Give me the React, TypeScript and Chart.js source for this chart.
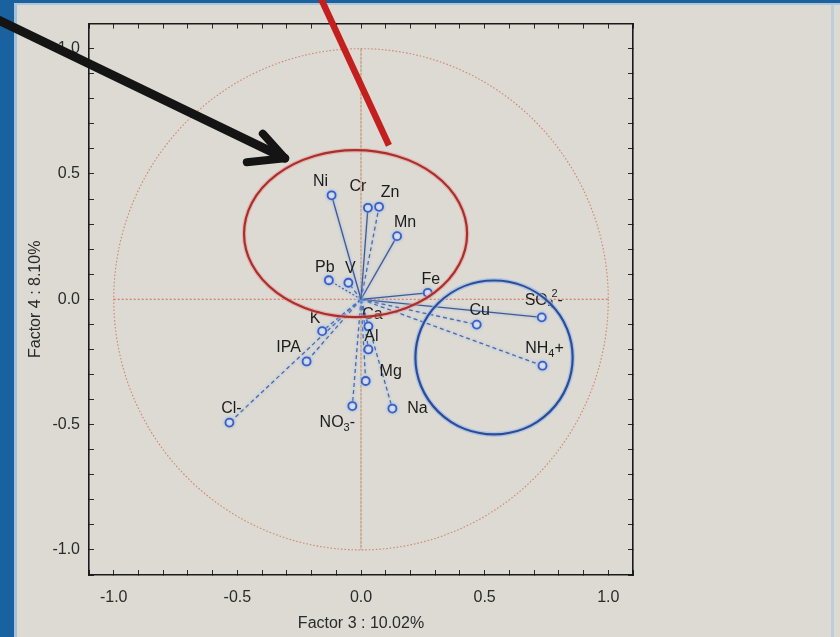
import React, { useEffect, useRef } from 'react';
import { Chart, registerables } from 'chart.js';

Chart.register(...registerables);

const FONT = '"Liberation Sans", Arial, Helvetica, sans-serif';

// ---------------- data ----------------
const variables = ['Ni', 'Cr', 'Zn', 'Mn', 'Pb', 'V', 'Fe', 'Cu', 'SO_4^2-', 'NH_4+', 'K', 'IPA', 'Cl-', 'Ca', 'Al', 'Mg', 'NO_3-', 'Na'];
const factor3 = [-0.119, 0.028, 0.073, 0.146, -0.130, -0.051, 0.270, 0.468, 0.731, 0.734, -0.157, -0.220, -0.532, 0.030, 0.030, 0.019, -0.035, 0.127];
const factor4 = [0.415, 0.365, 0.369, 0.252, 0.076, 0.066, 0.026, -0.101, -0.072, -0.265, -0.127, -0.248, -0.492, -0.108, -0.200, -0.326, -0.426, -0.436];

// styles / label placement (pixels, relative to the point)
const vectorStyle = ['solid', 'solid', 'dashed', 'solid', 'dotted', 'dashed', 'solid', 'dashed', 'solid', 'dashed', 'dashed', 'dashed', 'dashed', 'dashed', 'dashed', 'dashed', 'dashed', 'dashed'];
const labelOffset: [number, number][] = [[-11, -14], [-10, -21], [11, -14], [8, -14], [-4, -13], [2, -14], [3, -13], [3, -14], [2, -17], [2, -17], [-7, -13], [-18, -14], [2, -14], [4, -12], [3, -13], [25, -9], [-15, 17], [25, 0]];

const axisMin = -1.1;
const axisMax = 1.1;
const minorStep = 0.1;
const labelStep = 0.5;
const xTitle = 'Factor 3 : 10.02%';
const yTitle = 'Factor 4 : 8.10%';

// hand-drawn annotations (data units)
const redEllipse = { cx: -0.022, cy: 0.262, rx: 0.451, ry: 0.333 };
const blueEllipse = { cx: 0.538, cy: -0.232, rx: 0.318, ry: 0.307 };
const redStroke: [number, number][] = [[-0.162, 1.2], [0.113, 0.614]];
const arrowShaft: [number, number][] = [[-1.466, 1.114], [-0.308, 0.563]];
const arrowBarbs: [number, number][] = [[-0.462, 0.547], [-0.397, 0.661]];

const PAPER = '#dcdad3';
const BLUE = '#1a629f';

function drawRich(ctx: CanvasRenderingContext2D, markup: string, cx: number, cy: number, size: number, color: string) {
  const segs: { t: string; k: string }[] = [];
  for (let i = 0; i < markup.length; i++) {
    const c = markup[i];
    if ((c === '_' || c === '^') && i + 1 < markup.length) {
      segs.push({ t: markup[i + 1], k: c });
      i++;
    } else if (segs.length && segs[segs.length - 1].k === '') {
      segs[segs.length - 1].t += c;
    } else segs.push({ t: c, k: '' });
  }
  const main = `${size}px ${FONT}`;
  const small = `${Math.round(size * 0.68)}px ${FONT}`;
  let x = 0;
  const placed: { t: string; k: string; x: number; w: number }[] = [];
  let prev: { t: string; k: string; x: number; w: number } | null = null;
  for (const s of segs) {
    ctx.font = s.k ? small : main;
    const w = ctx.measureText(s.t).width;
    let sx = x;
    if (s.k === '^' && prev && prev.k === '_') sx = prev.x + prev.w * 0.6;
    const p = { ...s, x: sx, w };
    placed.push(p);
    x = Math.max(x, sx + w);
    prev = p;
  }
  const left = cx - x / 2;
  ctx.fillStyle = color;
  ctx.textBaseline = 'middle';
  ctx.textAlign = 'left';
  for (const p of placed) {
    ctx.font = p.k ? small : main;
    const dy = p.k === '_' ? size * 0.32 : p.k === '^' ? -size * 0.42 : 0;
    ctx.fillText(p.t, left + p.x, cy + dy);
  }
}

function ellipsePath(ctx: CanvasRenderingContext2D, xs: any, ys: any, e: { cx: number; cy: number; rx: number; ry: number }) {
  const px = xs.getPixelForValue(e.cx);
  const py = ys.getPixelForValue(e.cy);
  const prx = Math.abs(xs.getPixelForValue(e.cx + e.rx) - px);
  const pry = Math.abs(ys.getPixelForValue(e.cy + e.ry) - py);
  ctx.beginPath();
  ctx.ellipse(px, py, prx, pry, 0, 0, Math.PI * 2);
}

const decorPlugin = {
  id: 'decor',
  beforeDatasetsDraw(chart: any) {
    const { ctx, scales } = chart;
    const xs = scales.x;
    const ys = scales.y;
    ctx.save();
    // unit circle
    ctx.strokeStyle = 'rgba(205,130,100,0.95)';
    ctx.lineWidth = 1.1;
    ctx.setLineDash([1.5, 2]);
    ellipsePath(ctx, xs, ys, { cx: 0, cy: 0, rx: 1, ry: 1 });
    ctx.stroke();
    // cross lines
    ctx.strokeStyle = 'rgba(210,110,85,0.95)';
    ctx.setLineDash([2, 2]);
    ctx.beginPath();
    ctx.moveTo(xs.getPixelForValue(-1), ys.getPixelForValue(0));
    ctx.lineTo(xs.getPixelForValue(1), ys.getPixelForValue(0));
    ctx.stroke();
    ctx.strokeStyle = 'rgba(190,140,100,0.95)';
    ctx.setLineDash([3, 1]);
    ctx.beginPath();
    ctx.moveTo(xs.getPixelForValue(0), ys.getPixelForValue(1));
    ctx.lineTo(xs.getPixelForValue(0), ys.getPixelForValue(-1));
    ctx.stroke();
    ctx.restore();
    ctx.save();
    ctx.shadowColor = 'rgba(140,180,235,0.9)';
    ctx.shadowBlur = 3;
  },
  afterDatasetsDraw(chart: any) {
    const { ctx, scales } = chart;
    ctx.restore();
    const xs = scales.x;
    const ys = scales.y;
    // labels
    chart.data.datasets.forEach((ds: any, i: number) => {
      const meta = chart.getDatasetMeta(i);
      const pt = meta.data[1];
      if (!pt) return;
      drawRich(ctx, variables[i], pt.x + labelOffset[i][0], pt.y + labelOffset[i][1], 16, '#1c1c1c');
    });
    ctx.save();
    ctx.setLineDash([]);
    // red ellipse
    ctx.strokeStyle = 'rgba(235,150,150,0.55)';
    ctx.lineWidth = 4.5;
    ellipsePath(ctx, xs, ys, redEllipse);
    ctx.stroke();
    ctx.strokeStyle = '#a8302c';
    ctx.lineWidth = 2.2;
    ellipsePath(ctx, xs, ys, redEllipse);
    ctx.stroke();
    // blue ellipse
    ctx.strokeStyle = 'rgba(150,185,235,0.65)';
    ctx.lineWidth = 5;
    ellipsePath(ctx, xs, ys, blueEllipse);
    ctx.stroke();
    ctx.strokeStyle = '#2d4c96';
    ctx.lineWidth = 2.2;
    ellipsePath(ctx, xs, ys, blueEllipse);
    ctx.stroke();
    // red stroke
    ctx.strokeStyle = '#c41f1f';
    ctx.lineWidth = 6.5;
    ctx.lineCap = 'butt';
    ctx.beginPath();
    ctx.moveTo(xs.getPixelForValue(redStroke[0][0]), ys.getPixelForValue(redStroke[0][1]));
    ctx.lineTo(xs.getPixelForValue(redStroke[1][0]), ys.getPixelForValue(redStroke[1][1]));
    ctx.stroke();
    // black arrow
    ctx.strokeStyle = '#141414';
    ctx.lineWidth = 9;
    ctx.lineCap = 'round';
    ctx.lineJoin = 'round';
    const tip = [xs.getPixelForValue(arrowShaft[1][0]), ys.getPixelForValue(arrowShaft[1][1])];
    ctx.beginPath();
    ctx.moveTo(xs.getPixelForValue(arrowShaft[0][0]), ys.getPixelForValue(arrowShaft[0][1]));
    ctx.lineTo(tip[0], tip[1]);
    ctx.stroke();
    ctx.lineWidth = 8;
    ctx.beginPath();
    ctx.moveTo(xs.getPixelForValue(arrowBarbs[0][0]), ys.getPixelForValue(arrowBarbs[0][1]));
    ctx.lineTo(tip[0], tip[1]);
    ctx.lineTo(xs.getPixelForValue(arrowBarbs[1][0]), ys.getPixelForValue(arrowBarbs[1][1]));
    ctx.stroke();
    ctx.restore();
  },
};

const tickLabel = (v: any) => {
  const n = Number(v);
  const r = n / labelStep;
  return Math.abs(r - Math.round(r)) < 1e-6 ? n.toFixed(1) : '';
};

const gridOpts = { display: true, drawOnChartArea: false, drawTicks: true, tickLength: -5, color: '#2a2a2a', lineWidth: 1 };
const borderOpts = { display: true, color: '#1a1a1a', width: 1.6 };

export default function App() {
  const ref = useRef<HTMLCanvasElement>(null);
  useEffect(() => {
    const datasets = variables.map((name, i) => ({
      label: name,
      data: [{ x: 0, y: 0 }, { x: factor3[i], y: factor4[i] }],
      showLine: true,
      borderColor: vectorStyle[i] === 'solid' ? '#44598f' : '#4b69b0',
      borderWidth: 1.3,
      borderDash: vectorStyle[i] === 'solid' ? [] : vectorStyle[i] === 'dashed' ? [4, 3] : [2, 2],
      pointRadius: [0, 4],
      pointBorderColor: '#3b5ec6',
      pointBackgroundColor: '#e3e5ec',
      pointBorderWidth: 1.8,
      pointHoverRadius: [0, 4],
    }));
    const chart = new Chart(ref.current!, {
      type: 'scatter',
      data: { datasets },
      options: {
        responsive: false,
        animation: false,
        events: [],
        layout: { padding: { left: 0, right: 207, top: 18, bottom: 0 } },
        plugins: { legend: { display: false }, tooltip: { enabled: false } },
        scales: {
          x: {
            type: 'linear', position: 'bottom', min: axisMin, max: axisMax,
            ticks: { stepSize: minorStep, autoSkip: false, maxRotation: 0, callback: tickLabel, font: { family: FONT, size: 16 }, color: '#2a2a2a', padding: 18 },
            grid: gridOpts, border: borderOpts,
            title: { display: true, text: xTitle, font: { family: FONT, size: 16 }, color: '#2a2a2a', padding: { top: 0, bottom: 3.5 } },
            afterFit: (s: any) => { s.height = 62; },
          },
          x2: {
            type: 'linear', position: 'top', min: axisMin, max: axisMax,
            ticks: { stepSize: minorStep, autoSkip: false, display: false },
            grid: gridOpts, border: borderOpts,
            afterFit: (s: any) => { s.height = 0; },
          },
          y: {
            type: 'linear', position: 'left', min: axisMin, max: axisMax,
            ticks: { stepSize: minorStep, autoSkip: false, callback: tickLabel, font: { family: FONT, size: 16 }, color: '#2a2a2a', padding: 14 },
            grid: gridOpts, border: borderOpts,
            title: { display: true, text: yTitle, font: { family: FONT, size: 16 }, color: '#2a2a2a', padding: { top: 25.5, bottom: 0 } },
            afterFit: (s: any) => { s.width = 89; },
          },
          y2: {
            type: 'linear', position: 'right', min: axisMin, max: axisMax,
            ticks: { stepSize: minorStep, autoSkip: false, display: false },
            grid: gridOpts, border: borderOpts,
            afterFit: (s: any) => { s.width = 0; },
          },
        },
      } as any,
      plugins: [decorPlugin],
    });
    return () => chart.destroy();
  }, []);
  return (
    <div style={{ position: 'fixed', left: 0, top: 0, width: 840, height: 637, background: PAPER, overflow: 'hidden' }}>
      <div style={{ position: 'absolute', left: 0, top: 0, width: 14, height: 637, background: BLUE }} />
      <div style={{ position: 'absolute', left: 14, top: 0, width: 3, height: 637, background: '#a3c2da' }} />
      <div style={{ position: 'absolute', left: 0, top: 0, width: 840, height: 3, background: BLUE }} />
      <div style={{ position: 'absolute', left: 14, top: 3, width: 826, height: 2, background: '#aec6d8' }} />
      <div style={{ position: 'absolute', left: 831, top: 5, width: 3, height: 632, background: 'rgba(170,200,225,0.6)' }} />
      <canvas ref={ref} width={840} height={637} style={{ position: 'absolute', left: 0, top: 0, width: 840, height: 637 }} />
    </div>
  );
}
